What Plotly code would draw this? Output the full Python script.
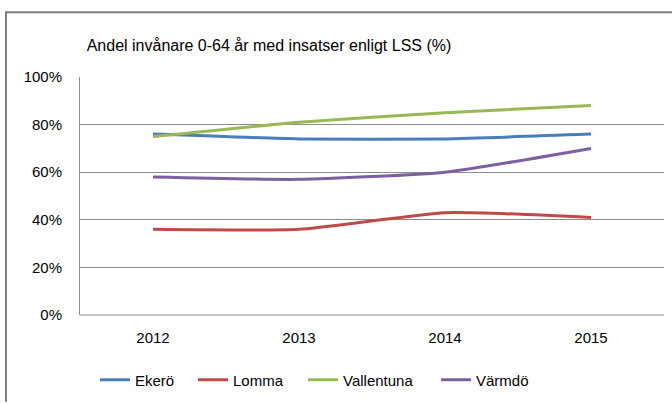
import plotly.graph_objects as go

years = ["2012", "2013", "2014", "2015"]
ekero = [76, 74, 74, 76]
lomma = [36, 36, 43, 41]
vallentuna = [75, 81, 85, 88]
varmdo = [58, 57, 60, 70]

series = [
    ("Ekerö", ekero, "#4A7EBB"),
    ("Lomma", lomma, "#BE4B48"),
    ("Vallentuna", vallentuna, "#98B954"),
    ("Värmdö", varmdo, "#7D60A0"),
]
# left edge (px) of each legend entry
legend_left = [95, 193, 303, 436]

W, H = 672, 403
L, R, T, B = 80, 8, 77, 87
pw, ph = W - L - R, H - T - B

def px(x):
    return (x - L) / pw

def py(y):
    return (H - B - y) / ph

font = "Liberation Sans"
fig = go.Figure()
legends = {}
for i, (name, vals, color) in enumerate(series):
    key = "legend" if i == 0 else f"legend{i + 1}"
    fig.add_trace(go.Scatter(
        x=years, y=vals, name=name, mode="lines", legend=key,
        line=dict(color=color, width=3, shape="spline", smoothing=0.5),
    ))
    legends[key] = dict(orientation="h", x=px(legend_left[i]), xanchor="left",
                        y=py(380), yanchor="middle", itemwidth=30,
                        bgcolor="rgba(0,0,0,0)",
                        font=dict(family=font, size=15, color="#000000"))

fig.update_layout(
    width=W, height=H,
    margin=dict(l=L, r=R, t=T, b=B),
    paper_bgcolor="white", plot_bgcolor="white",
    title=dict(text="Andel invånare 0-64 år med insatser enligt LSS (%)",
               xref="paper", x=px(269), xanchor="center",
               yref="container", y=1 - 45 / H, yanchor="middle",
               font=dict(family=font, size=16, color="#000000")),
    xaxis=dict(showgrid=False, showline=False, ticks="", range=[-0.5, 3.5],
               ticklabelstandoff=12,
               tickfont=dict(family=font, size=15, color="#000000")),
    yaxis=dict(range=[0, 100], dtick=20, ticksuffix="%", showgrid=True,
               gridcolor="#8C8C8C", gridwidth=1, zeroline=False,
               showline=True, linecolor="#8C8C8C", linewidth=1, ticks="",
               ticklabelstandoff=14,
               tickfont=dict(family=font, size=15, color="#000000")),
    showlegend=True,
    **legends,
)

# Bottom axis line and outer chart frame
fig.add_shape(type="line", xref="paper", yref="paper", x0=0, x1=1, y0=0, y1=0,
              line=dict(color="#8C8C8C", width=1))
fig.add_shape(type="line", xref="paper", yref="paper", x0=px(5), x1=px(W), y0=py(12), y1=py(12),
              line=dict(color="#7F7F7F", width=2))
fig.add_shape(type="line", xref="paper", yref="paper", x0=px(6), x1=px(6), y0=py(12), y1=py(H),
              line=dict(color="#7F7F7F", width=2))

fig.write_html("out.html")
